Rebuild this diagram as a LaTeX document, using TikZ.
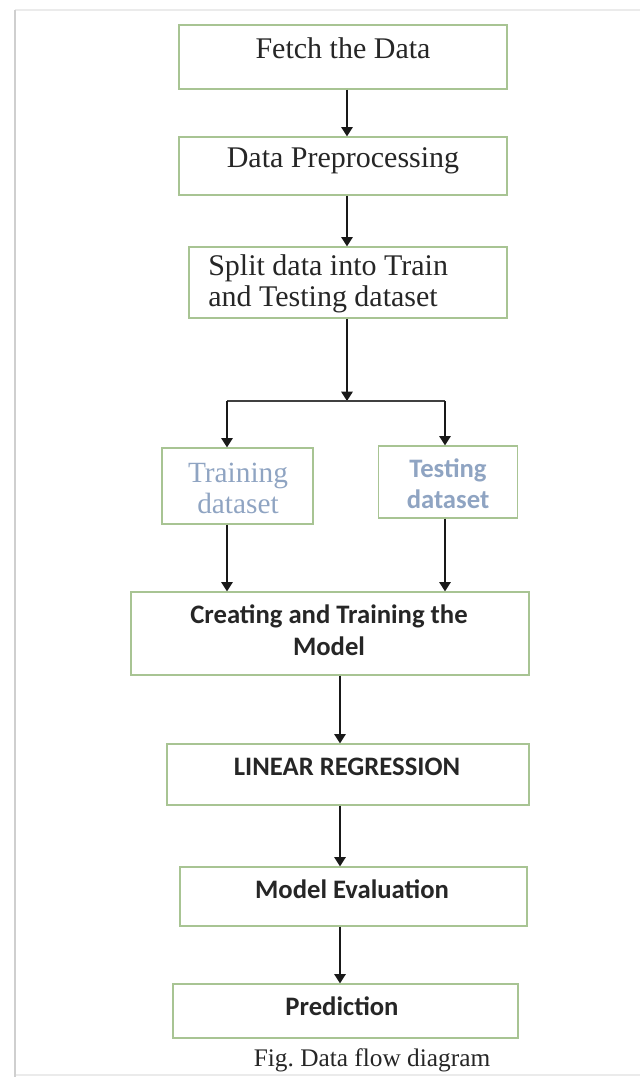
\documentclass[tikz,border=0pt]{standalone}
\usepackage{fontspec}
\setmainfont{Liberation Serif}
\newfontfamily\calib{Carlito}
\usetikzlibrary{arrows.meta}
\definecolor{boxgreen}{HTML}{A8C493}
\definecolor{txtgray}{HTML}{262626}
\definecolor{bluegray}{HTML}{8FA4C2}
\definecolor{framegray}{HTML}{CFCFCF}
\definecolor{framelight}{HTML}{EBEBEB}
\tikzset{
  box/.style={draw=boxgreen, line width=0.9pt, rectangle, inner sep=0pt},
  serif/.style={text=txtgray, font=\fontsize{22.5}{23.5}\selectfont, inner sep=0pt},
  sansb/.style={text=txtgray, font=\calib\bfseries\fontsize{20}{24}\selectfont, inner sep=0pt, align=center},
  arr/.style={draw=black!90, line width=1.4pt, -{Triangle[length=7pt,width=8.5pt]}},
  ln/.style={draw=black!75, line width=1.1pt}
}
\begin{document}
\begin{tikzpicture}[x=0.75pt,y=-0.75pt]
\useasboundingbox (0,0) rectangle (640,1077);
% page frame
\draw[framelight, line width=1.2pt] (15,10) -- (640,10);
\draw[framelight, line width=1.2pt] (15,1075) -- (640,1075);
\draw[framegray, line width=1.8pt] (15,10) -- (15,1077);

% boxes
\node[box, minimum width=328*0.75pt, minimum height=64*0.75pt] (b1) at (343,57) {};
\node[serif] (t1) at (343,48) {Fetch the Data};

\node[box, minimum width=328*0.75pt, minimum height=58*0.75pt] (b2) at (343,166) {};
\node[serif] (t2) at (343,161) {Data Preprocessing};

\node[box, minimum width=318*0.75pt, minimum height=71*0.75pt] (b3) at (348,282.5) {};
\node[serif, anchor=west, align=left, font=\fontsize{22.5}{23.3}\selectfont] (t3) at (208,284) {Split data into Train\\and Testing dataset};

\node[box, minimum width=151*0.75pt, minimum height=76*0.75pt] (tr) at (237.5,486) {};
\node[serif, align=center, text=bluegray, font=\fontsize{22}{23.3}\selectfont] (t4) at (238,488) {Training\\dataset};

\node[box, minimum width=139*0.75pt, minimum height=72*0.75pt] (te) at (448,482) {};
\node[sansb, text=bluegray, font=\calib\bfseries\fontsize{20}{23.3}\selectfont] (t5) at (448,484) {Testing\\dataset};

\node[box, minimum width=398*0.75pt, minimum height=83*0.75pt] (cr) at (330,633.5) {};
\node[sansb] (t6) at (329,630) {Creating and Training the\\Model};

\node[box, minimum width=362*0.75pt, minimum height=61*0.75pt] (lr) at (348,774.5) {};
\node[sansb] (t7) at (347,767) {LINEAR REGRESSION};

\node[box, minimum width=347*0.75pt, minimum height=59*0.75pt] (me) at (353.5,896.5) {};
\node[sansb] (t8) at (352,889) {Model Evaluation};

\node[box, minimum width=345*0.75pt, minimum height=54*0.75pt] (pr) at (345.5,1011) {};
\node[sansb] (t9) at (342,1006) {Prediction};

\node[serif, font=\fontsize{19}{21}\selectfont] (cap) at (372,1060) {Fig.\ Data flow diagram};

% connector columns
\coordinate (xa) at (347,0);
\coordinate (xl) at (227,0);
\coordinate (xr) at (445,0);
\coordinate (xb) at (340,0);
\coordinate (j) at (347,401);
\coordinate (jl) at (227,401);
\coordinate (jr) at (445,401);

\draw[arr] (b1.south -| xa) -- (b2.north -| xa);
\draw[arr] (b2.south -| xa) -- (b3.north -| xa);
\draw[arr] (b3.south -| xa) -- (j);
\draw[ln] (jl) -- (jr);
\draw[arr] (jl) -- (tr.north -| xl);
\draw[arr] (jr) -- (te.north -| xr);
\draw[arr] (tr.south -| xl) -- (cr.north -| xl);
\draw[arr] (te.south -| xr) -- (cr.north -| xr);
\draw[arr] (cr.south -| xb) -- (lr.north -| xb);
\draw[arr] (lr.south -| xb) -- (me.north -| xb);
\draw[arr] (me.south -| xb) -- (pr.north -| xb);
\end{tikzpicture}
\end{document}
